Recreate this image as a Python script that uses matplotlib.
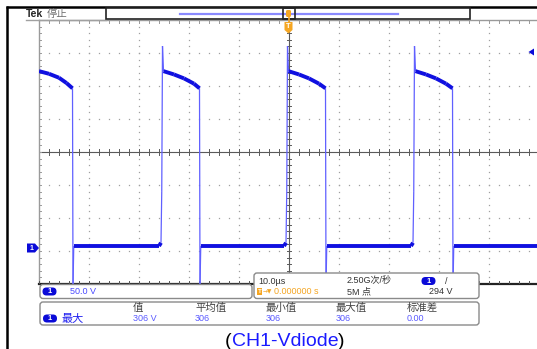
import numpy as np
import matplotlib
matplotlib.use('Agg')
import matplotlib.pyplot as plt
from matplotlib.collections import LineCollection
from matplotlib.patches import FancyBboxPatch, Rectangle, Polygon

plt.rcParams['font.family'] = ['Liberation Sans', 'Noto Sans CJK SC', 'DejaVu Sans']

# ---------------- data ----------------
trace_t = [-50.0, -48.0, -46.0, -44.5, -43.3, -43.2, -43.05, -42.9,
           -26.0, -25.6, -25.45, -25.3, -25.1, -23.0, -21.0, -19.0, -17.9, -17.8, -17.65, -17.5,
           -1.0, -0.6, -0.45, -0.3, -0.1, 2.0, 4.0, 6.0, 7.3, 7.4, 7.55, 7.7,
           24.4, 24.8, 24.95, 25.1, 25.3, 27.4, 29.4, 31.4, 32.7, 32.8, 32.95, 33.1,
           50.0]
trace_v = [268, 264, 258, 250, 242, -58, 3, 3,
           3, 8, 85, 306, 268, 263, 257, 249, 242, -58, 3, 3,
           3, 8, 85, 306, 268, 263, 257, 249, 242, -58, 3, 3,
           3, 8, 85, 306, 268, 263, 257, 249, 242, -58, 3, 3,
           3]
volts_per_div = 50
us_per_div = 10
ground_div = -2.91
trigger_level_v = 294

scale_text = '50.0 V'
timebase_text = '10.0µs'
trigpos_text = '0.000000 s'
rate_text = '2.50G次/秒'
points_text = '5M 点'
triglevel_text = '294 V'
meas_name = '最大'
header_labels = ['值', '平均值', '最小值', '最大值', '标准差']
measure_values = ['306 V', '306', '306', '306', '0.00']
caption = 'CH1-Vdiode'

BLUE = '#1010e0'
LBLUE = '#6060ff'
ORANGE = '#f5a623'

fig = plt.figure(figsize=(5.37, 3.49), dpi=100)
fig.patch.set_facecolor('white')

# ---------------- scope graticule ----------------
W, H = 537, 349
ax = fig.add_axes([39 / W, (H - 284) / H, 500 / W, 264 / H])
xmin, xmax = -5 * us_per_div, 5 * us_per_div
def vd(k):
    return (k - ground_div) * volts_per_div
ax.set_xlim(xmin, xmax)
ax.set_ylim(vd(-4), vd(4))
ax.axis('off')

dot_c = '#a0a0a0'
xs_dots = np.arange(xmin, xmax + 0.01, us_per_div / 5)
ys_dots = vd(np.arange(-4, 4.01, 0.2))
for k in [-3, -2, -1, 1, 2, 3]:
    ax.plot(xs_dots, np.full_like(xs_dots, vd(k)), ls='none', marker='s', ms=0.9, mec='none', mfc=dot_c, zorder=1)
for k in [-4, -3, -2, -1, 1, 2, 3, 4]:
    ax.plot(np.full_like(ys_dots, k * us_per_div), ys_dots, ls='none', marker='s', ms=0.9, mec='none', mfc=dot_c, zorder=1)

# center crosshair with ticks
cc = '#5a5a5a'
ax.axhline(vd(0), color=cc, lw=0.8, zorder=2)
ax.axvline(0, color=cc, lw=0.8, zorder=2)
for x in xs_dots:
    ax.plot([x, x], [vd(-0.08), vd(0.08)], color=cc, lw=0.7, zorder=2)
for y in ys_dots:
    ax.plot([-0.45, 0.45], [y, y], color=cc, lw=0.7, zorder=2)

# borders
bc = '#9a9a9a'
ax.plot([xmin, xmax], [vd(4), vd(4)], color=bc, lw=1.0, zorder=2, clip_on=False)
ax.plot([xmin, xmin], [vd(-4), vd(4)], color=bc, lw=1.0, zorder=2, clip_on=False)
for x in xs_dots:
    ax.plot([x, x], [vd(4), vd(3.92)], color=bc, lw=0.7, zorder=2)
for y in ys_dots:
    ax.plot([xmin, xmin + 0.45], [y, y], color=bc, lw=0.7, zorder=2)
ax.plot([xmin, xmax], [vd(-4), vd(-4)], color='#222222', lw=1.6, zorder=2, clip_on=False)
for x in xs_dots:
    ax.plot([x, x], [vd(-4), vd(-3.92)], color='#555555', lw=0.7, zorder=2)

# waveform
t = np.array(trace_t)
v = np.array(trace_v, dtype=float)
pts = np.column_stack([t, v])
segs = np.stack([pts[:-1], pts[1:]], axis=1)
slope = np.abs(np.diff(v)) / np.maximum(np.diff(t), 1e-6)
flat = slope < 30
lc_thin = LineCollection(segs[~flat], colors=LBLUE, linewidths=0.9, zorder=3)
lc_thick = LineCollection(segs[flat], colors=BLUE, linewidths=2.8, zorder=4, capstyle='butt')
ax.add_collection(lc_thin)
ax.add_collection(lc_thick)

# ---------------- overlay (pixel coordinates) ----------------
ov = fig.add_axes([0, 0, 1, 1])
ov.set_xlim(0, W)
ov.set_ylim(H, 0)
ov.axis('off')
ov.patch.set_alpha(0)

# outer black frame
ov.plot([6.5, 6.5], [5.5, H], color='black', lw=1.8, solid_capstyle='butt')
ov.plot([5.5, W], [6.5, 6.5], color='black', lw=1.8, solid_capstyle='butt')

def badge(cx, cy, w=14, h=8, fs=5.5):
    p = FancyBboxPatch((cx - w / 2, cy - h / 2), w, h, boxstyle='round,pad=0,rounding_size=%g' % (h / 2),
                       fc='#0a0ad8', ec='none', zorder=6)
    ov.add_patch(p)
    ov.text(cx, cy + 0.3, '1', color='white', fontsize=fs, fontweight='bold', ha='center', va='center', zorder=7)

def box(x0, y0, x1, y1):
    p = FancyBboxPatch((x0, y0), x1 - x0, y1 - y0, boxstyle='round,pad=0,rounding_size=3',
                       fc='white', ec='#8a8a8a', lw=1.0, zorder=5)
    ov.add_patch(p)

# top status
ov.plot([26, 106], [19.5, 19.5], color='#a0a0a0', lw=1.0)
ov.text(26, 14, 'Tek', fontsize=7.5, fontweight='bold', color='#222222', va='center', ha='left')
ov.text(47, 14, '停止', fontsize=7.5, color='#707070', va='center', ha='left')

# record view bar
ov.add_patch(Rectangle((106, 8), 364, 11, fc='white', ec='#222222', lw=1.2, zorder=5))
ov.plot([180, 398], [13.5, 13.5], color='#8a8aff', lw=1.6, zorder=6)
ov.add_patch(Rectangle((283, 8), 12, 11, fc='none', ec='#222222', lw=1.2, zorder=7))
ov.add_patch(FancyBboxPatch((286, 10), 5, 7, boxstyle='round,pad=0,rounding_size=1.5', fc=ORANGE, ec='none', zorder=8))
ov.plot([288.5, 288.5], [17, 23], color=ORANGE, lw=1.2, zorder=8)
ov.add_patch(Polygon([(284.5, 22), (292.5, 22), (292.5, 30), (288.5, 33.5), (284.5, 30)], fc=ORANGE, ec='none', zorder=8))
ov.text(288.5, 27, 'T', color='white', fontsize=5.5, fontweight='bold', ha='center', va='center', zorder=9)

# ground marker and trigger level marker
ov.add_patch(Polygon([(27, 243.5), (35, 243.5), (39, 248), (35, 252.5), (27, 252.5)], fc='#0a0ad8', ec='none', zorder=6))
ov.text(31.5, 248.3, '1', color='white', fontsize=5, fontweight='bold', ha='center', va='center', zorder=7)
ov.add_patch(Polygon([(528.5, 52), (534, 48.5), (534, 55.5)], fc='#0a0ad8', ec='none', zorder=6))

# bottom-left channel box
box(40, 284.5, 252, 298.5)
badge(49.5, 291.5)
ov.text(70, 291.8, scale_text, fontsize=6.5, color='#4a4aff', va='center', ha='left', zorder=7)

# bottom-right timebase/trigger box
box(254, 273, 479, 298.5)
ov.text(258, 281, timebase_text, fontsize=6.5, color='#333333', va='center', ha='left', zorder=7)
ov.add_patch(Rectangle((257, 288), 5, 7, fc=ORANGE, ec='none', zorder=7))
ov.text(259.5, 291.7, 'T', fontsize=4.5, color='white', fontweight='bold', ha='center', va='center', zorder=8)
ov.text(262.3, 291.7, '→▼', fontsize=4.2, color=ORANGE, va='center', ha='left', zorder=7,
        family=['DejaVu Sans'])
ov.text(273.5, 292, trigpos_text, fontsize=6.5, color=ORANGE, va='center', ha='left', zorder=7)
ov.text(347, 281, rate_text, fontsize=6.5, color='#333333', va='center', ha='left', zorder=7)
ov.text(347, 292, points_text, fontsize=6.5, color='#333333', va='center', ha='left', zorder=7)
badge(428.5, 281)
ov.text(445, 281, '/', fontsize=6.5, color='#333333', va='center', ha='left', zorder=7)
ov.text(429, 292, triglevel_text, fontsize=6.5, color='#333333', va='center', ha='left', zorder=7)

# measurement box
box(40, 302, 479, 325)
badge(50, 318.5)
ov.text(62, 318.8, meas_name, fontsize=8, color='#2020f0', va='center', ha='left', zorder=7)
col_x = [133, 195, 266, 336, 407]
for x, lab, val in zip(col_x, header_labels, measure_values):
    ov.text(x, 307.5, lab, fontsize=7.5, color='#444444', va='center', ha='left', zorder=7)
    ov.text(x, 318.5, val, fontsize=6.5, color='#5a5aff', va='center', ha='left', zorder=7)

# caption
t1 = ov.text(225, 341, '(', fontsize=14, color='black', va='center', ha='left')
t2 = ov.annotate(caption, xy=(1, 0), xycoords=t1, va='bottom', ha='left', fontsize=14, color='#1a1aff')
t3 = ov.annotate(')', xy=(1, 0), xycoords=t2, va='bottom', ha='left', fontsize=14, color='black')

fig.savefig('out.png', dpi=100)
